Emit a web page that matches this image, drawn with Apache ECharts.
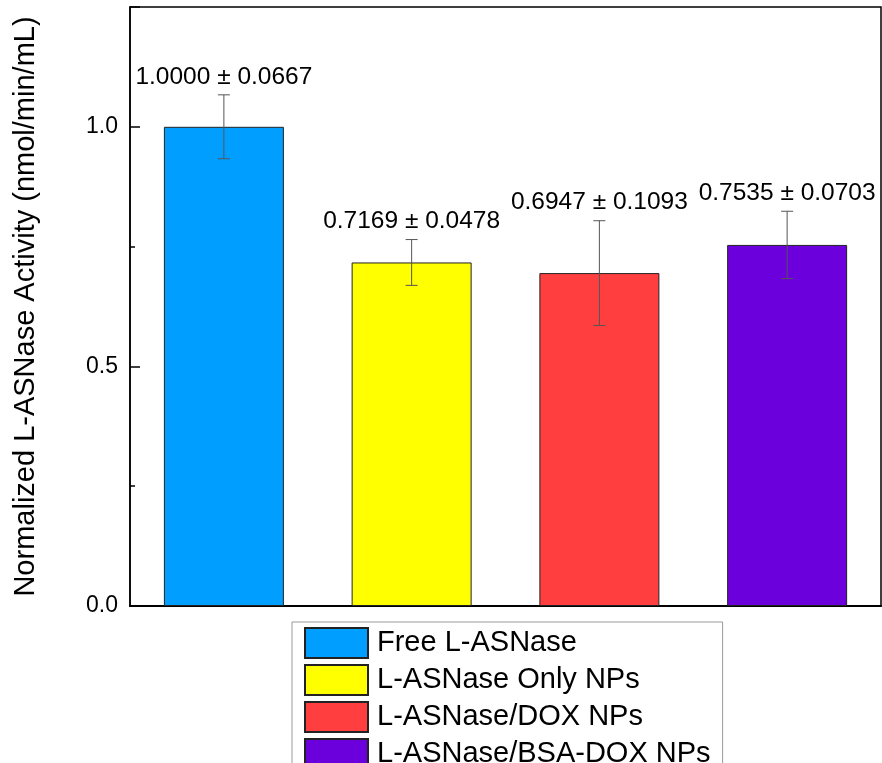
<!DOCTYPE html>
<html>
<head>
<meta charset="utf-8">
<script src="https://cdn.jsdelivr.net/npm/echarts@6/dist/echarts.min.js"></script>
<style>html,body{margin:0;padding:0;background:#fff;}#c{width:882px;height:763px;}</style>
</head>
<body>
<div id="c"></div>
<script>
const categories = ['Free L-ASNase', 'L-ASNase Only NPs', 'L-ASNase/DOX NPs', 'L-ASNase/BSA-DOX NPs'];
const values = [1.0000, 0.7169, 0.6947, 0.7535];
const errors = [0.0667, 0.0478, 0.1093, 0.0703];
const colors = ['#009FFF', '#FFFF00', '#FF3F3F', '#6B00DC'];
const yTicks = [0, 0.5, 1.0];

const FONT = '"Liberation Sans", Arial, sans-serif';
const chart = echarts.init(document.getElementById('c'), null, {renderer: 'canvas'});

const barSeries = categories.map((name, i) => ({
  name: name,
  type: 'bar',
  barWidth: 120,
  barGap: '-100%',
  itemStyle: {color: colors[i], borderColor: '#222', borderWidth: 1},
  data: values.map((v, j) => (j === i ? v : '-')),
  z: 2
}));

const errSeries = {
  type: 'custom',
  z: 5,
  silent: true,
  data: categories.map((c, i) => [i, values[i], errors[i]]),
  renderItem: function (params, api) {
    const i = api.value(0), v = api.value(1), e = api.value(2);
    const top = api.coord([i, v + e]);
    const bot = api.coord([i, v - e]);
    const cap = 6;
    const st = {stroke: '#555', lineWidth: 1};
    return {
      type: 'group',
      children: [
        {type: 'line', shape: {x1: top[0], y1: top[1], x2: bot[0], y2: bot[1]}, style: st},
        {type: 'line', shape: {x1: top[0] - cap, y1: top[1], x2: top[0] + cap, y2: top[1]}, style: st},
        {type: 'line', shape: {x1: bot[0] - cap, y1: bot[1], x2: bot[0] + cap, y2: bot[1]}, style: st},
        {type: 'text', x: top[0], y: top[1] - 18,
         style: {text: v.toFixed(4) + ' ± ' + e.toFixed(4), fill: '#000', font: '24.5px ' + FONT,
                 textAlign: 'center', textVerticalAlign: 'middle'}}
      ]
    };
  }
};

chart.setOption({
  animation: false,
  backgroundColor: '#fff',
  grid: {left: 130, top: 7, right: 1, bottom: 157, show: true, borderColor: '#000', borderWidth: 1.5, backgroundColor: 'transparent'},
  legend: {
    data: categories,
    orient: 'vertical',
    left: 292,
    top: 622,
    height: 300,
    itemWidth: 63,
    itemHeight: 30,
    itemGap: 5,
    padding: [5, 12, 5, 12],
    borderColor: '#999',
    borderWidth: 1,
    backgroundColor: '#fff',
    icon: 'rect',
    textStyle: {fontSize: 29, color: '#000', fontFamily: FONT, padding: [2, 0, 0, 4]}
  },
  xAxis: {
    type: 'category',
    data: categories,
    axisLine: {lineStyle: {color: '#000', width: 2}},
    axisTick: {show: false},
    axisLabel: {show: false},
    splitLine: {show: false}
  },
  yAxis: {
    type: 'value',
    min: 0,
    max: 1.25,
    interval: 0.5,
    name: 'Normalized L-ASNase Activity (nmol/min/mL)',
    nameLocation: 'middle',
    nameGap: 90,
    nameTextStyle: {fontSize: 29, color: '#000', fontFamily: FONT},
    axisLine: {show: true, lineStyle: {color: '#000', width: 1.5}},
    axisTick: {show: true, inside: true, length: 10, lineStyle: {color: '#000', width: 1.5}},
    minorTick: {show: true, splitNumber: 2, length: 5, lineStyle: {color: '#000', width: 1.5}},
    axisLabel: {
      fontSize: 23, color: '#000', fontFamily: FONT, margin: 12,
      formatter: function (v) { return yTicks.indexOf(v) >= 0 ? v.toFixed(1) : ''; }
    },
    splitLine: {show: false}
  },
  series: barSeries.concat([errSeries])
});
</script>
</body>
</html>
